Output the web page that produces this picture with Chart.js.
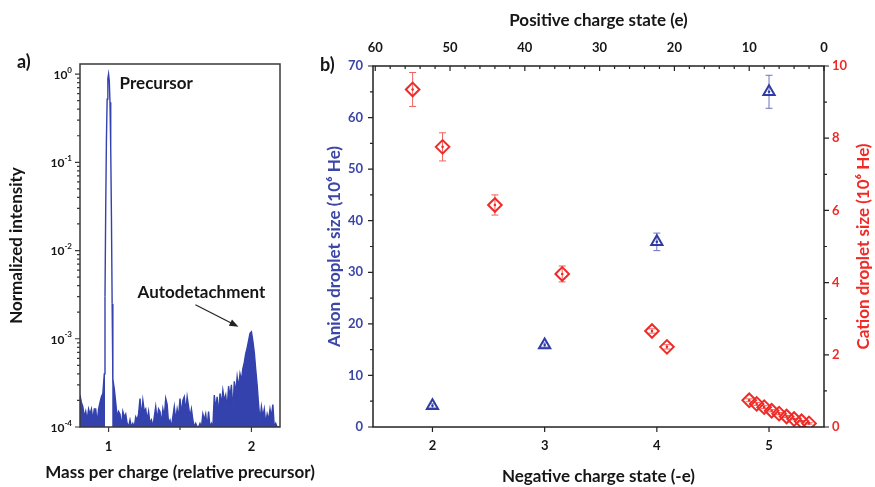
<!DOCTYPE html>
<html>
<head>
<meta charset="utf-8">
<script src="https://cdn.jsdelivr.net/npm/chart.js@4.4.1/dist/chart.umd.min.js"></script>
<style>
  html, body { margin: 0; padding: 0; background: #fff; }
  #lienzo { position: relative; width: 875px; height: 487px; overflow: hidden; }
  canvas { position: absolute; top: 0; }
  #grafico_espectro { left: 0; }
  #grafico_tamanos { left: 300px; }
</style>
</head>
<body>
<div id="lienzo">
  <canvas id="grafico_espectro" width="340" height="487"></canvas>
  <canvas id="grafico_tamanos" width="575" height="487"></canvas>
</div>
<script>
/*********-datos panel a: espectro de masas-*********/
const MASA = [
  0.80, 0.81, 0.82, 0.83, 0.84, 0.85, 0.86, 0.87, 0.88, 0.89,
  0.90, 0.91, 0.92, 0.93, 0.94, 0.95, 0.96, 0.97, 0.975, 0.98,
  0.985, 0.99, 0.995, 1.00, 1.005, 1.01, 1.015, 1.02, 1.025, 1.03,
  1.04, 1.05, 1.06, 1.07, 1.08, 1.09, 1.10, 1.11, 1.12, 1.13,
  1.14, 1.15, 1.16, 1.17, 1.18, 1.19, 1.20, 1.21, 1.22, 1.23,
  1.24, 1.25, 1.26, 1.27, 1.28, 1.29, 1.30, 1.31, 1.32, 1.33,
  1.34, 1.35, 1.36, 1.37, 1.38, 1.39, 1.40, 1.41, 1.42, 1.43,
  1.44, 1.45, 1.46, 1.47, 1.48, 1.49, 1.50, 1.51, 1.52, 1.53,
  1.54, 1.55, 1.56, 1.57, 1.58, 1.59, 1.60, 1.61, 1.62, 1.63,
  1.64, 1.65, 1.66, 1.67, 1.68, 1.69, 1.70, 1.71, 1.72, 1.73,
  1.74, 1.75, 1.76, 1.77, 1.78, 1.79, 1.80, 1.81, 1.82, 1.83,
  1.84, 1.85, 1.86, 1.87, 1.88, 1.89, 1.90, 1.91, 1.92, 1.93,
  1.94, 1.95, 1.96, 1.97, 1.98, 1.99, 2.00, 2.01, 2.02, 2.03,
  2.04, 2.05, 2.06, 2.07, 2.08, 2.09, 2.10, 2.11, 2.12, 2.13,
  2.14, 2.15, 2.16, 2.17, 2.18, 2.19, 2.20
];
// intensidad normalizada en unidades de 1e-4
const INTENSIDAD_E4 = [
  2.3, 1.9, 1.7, 1.3, 1.5, 1.2, 1.6, 1.4, 1.6, 1.2,
  1.6, 1.6, 1.1, 1.6, 1.9, 2.2, 2.4, 4, 30, 300,
  1800, 5200, 8900, 10000, 8400, 4800, 1500, 250, 25, 3.5,
  2.7, 1.9, 1.3, 1.5, 1.4, 1.0, 1.5, 1.3, 1.4, 1.1,
  1.0, 1.2, 1.0, 1.1, 1.0, 1.3, 1.2, 1.4, 2.1, 1.3,
  2.0, 1.5, 1.6, 1.2, 1.5, 1.1, 1.2, 1.0, 1.3, 1.7,
  1.2, 1.6, 1.5, 1.1, 1.6, 1.3, 2.1, 1.8, 1.1, 1.2,
  1.0, 1.3, 1.7, 1.2, 1.6, 1.3, 2.1, 1.4, 2.0, 2.2,
  1.5, 2.2, 1.7, 1.3, 1.6, 1.2, 1.0, 1.1, 1.0, 1.0,
  1.1, 1.0, 1.4, 1.2, 1.4, 1.0, 1.5, 1.0, 1.1, 1.0,
  2.3, 1.6, 2.2, 1.4, 2.4, 1.8, 2.6, 2.0, 2.3, 1.6,
  2.9, 2.2, 3.0, 1.5, 3.3, 2.4, 3.7, 2.8, 4.0, 3.4,
  4.6, 5.4, 6.8, 7.9, 9.5, 11.5, 12.0, 9.5, 7.0, 4.5,
  3.0, 1.8, 1.2, 1.7, 1.3, 1.6, 1.1, 1.4, 1.2, 1.6,
  1.3, 1.8, 1.0, 1.1, 1.0, 1.0, 1.0
];
const TICKS_MASA = [1, 2];
const DECADAS = [-4, -3, -2, -1, 0];
const MENORES_LOG = [2, 3, 4, 5, 6, 7, 8, 9];
//------------------------------------//

/*********-datos panel b: tamaño de gota segun carga-*********/
const CARGA_NEG = [2, 3, 4, 5];
const ANION = [4.1, 15.9, 35.9, 65.0];
const ANION_ERR = [0.4, 0.4, 1.7, 3.2];

const CARGA_POS = [55, 51, 44, 35, 23, 21, 10, 9, 8, 7, 6, 5, 4, 3, 2];
const CATION = [9.35, 7.76, 6.15, 4.24, 2.66, 2.22, 0.74, 0.64, 0.55, 0.45, 0.37, 0.29, 0.22, 0.16, 0.10];
const CATION_ERR = [0.47, 0.39, 0.28, 0.22, 0.06, 0.06, 0.04, 0.04, 0.04, 0.03, 0.03, 0.03, 0.02, 0.02, 0.02];

const TICKS_NEG = [2, 3, 4, 5];
const TICKS_POS = [60, 50, 40, 30, 20, 10, 0];
const TICKS_ANION = [0, 10, 20, 30, 40, 50, 60, 70];
const TICKS_CATION = [0, 2, 4, 6, 8, 10];
//------------------------------------//

const FUENTE = 'Lato';
const NEGRO = '#161616';
const AZUL_ESPECTRO = '#3442ae';
const AZUL_TEXTO = '#3b46a8';
const AZUL_MARCA = '#2f3ca3';
const AZUL_ERROR = '#6a74c4';
const ROJO = '#ee2b27';
const ROJO_ERROR = '#f2605c';

// dibuja las marcas de un eje, dir = +1 hacia abajo/derecha, -1 hacia arriba/izquierda
function marcas(ctx, escala, valores, largo, dir) {
  const area = escala.chart.chartArea;
  ctx.beginPath();
  valores.forEach(v => {
    const p = escala.getPixelForValue(v);
    if (escala.isHorizontal()) {
      const y0 = escala.position === 'top' ? area.top : area.bottom;
      ctx.moveTo(p, y0);
      ctx.lineTo(p, y0 + dir * largo);
    } else {
      const x0 = escala.position === 'left' ? area.left : area.right;
      ctx.moveTo(x0, p);
      ctx.lineTo(x0 + dir * largo, p);
    }
  });
  ctx.stroke();
}

function flecha(ctx, x1, y1, x2, y2) {
  const ang = Math.atan2(y2 - y1, x2 - x1);
  ctx.beginPath();
  ctx.moveTo(x1, y1);
  ctx.lineTo(x2 - 6 * Math.cos(ang), y2 - 6 * Math.sin(ang));
  ctx.stroke();
  ctx.beginPath();
  ctx.moveTo(x2, y2);
  ctx.lineTo(x2 - 9 * Math.cos(ang) + 3.5 * Math.sin(ang), y2 - 9 * Math.sin(ang) - 3.5 * Math.cos(ang));
  ctx.lineTo(x2 - 9 * Math.cos(ang) - 3.5 * Math.sin(ang), y2 - 9 * Math.sin(ang) + 3.5 * Math.cos(ang));
  ctx.closePath();
  ctx.fill();
}

function fijarTicks(valores) {
  return function (escala) {
    escala.ticks = valores.map(v => ({ value: v }));
  };
}

/*********-panel a-*********/
const pluginEspectro = {
  id: 'marcos_espectro',
  afterDraw(chart) {
    const ctx = chart.ctx;
    const a = chart.chartArea;
    const sx = chart.scales.x;
    const sy = chart.scales.y;
    ctx.save();
    ctx.strokeStyle = '#3a3a3a';
    ctx.lineWidth = 1.5;
    ctx.strokeRect(a.left, a.top, a.right - a.left, a.bottom - a.top);

    ctx.lineWidth = 1.2;
    marcas(ctx, sy, DECADAS.map(n => Math.pow(10, n)), 5, -1);
    const menores = [];
    DECADAS.forEach(n => MENORES_LOG.forEach(k => {
      const v = k * Math.pow(10, n);
      if (v < sy.max) menores.push(v);
    }));
    marcas(ctx, sy, menores, 3, -1);
    marcas(ctx, sx, TICKS_MASA, 5, 1);
    marcas(ctx, sx, [1.5], 3, 1);

    // etiquetas 10^n con exponente
    ctx.fillStyle = NEGRO;
    ctx.textBaseline = 'middle';
    ctx.textAlign = 'right';
    DECADAS.forEach(n => {
      const y = sy.getPixelForValue(Math.pow(10, n));
      const exp = n === 0 ? '0' : '-' + (-n);
      ctx.font = 'bold 8px ' + FUENTE;
      const wExp = ctx.measureText(exp).width;
      ctx.fillText(exp, a.left - 8, y - 4);
      ctx.font = 'bold 12px ' + FUENTE;
      ctx.fillText('10', a.left - 8 - wExp, y + 1);
    });

    ctx.font = 'bold 17px ' + FUENTE;
    ctx.textAlign = 'center';
    ctx.fillText('Mass per charge (relative precursor)', (a.left + a.right) / 2, chart.height - 14);

    // anotaciones
    ctx.textBaseline = 'alphabetic';
    ctx.textAlign = 'left';
    ctx.fillText('Precursor', sx.getPixelForValue(1.077), sy.getPixelForValue(0.676));
    ctx.textAlign = 'center';
    ctx.fillText('Autodetachment', sx.getPixelForValue(1.65), sy.getPixelForValue(2.9e-3));
    ctx.strokeStyle = '#222';
    ctx.fillStyle = '#222';
    ctx.lineWidth = 1.2;
    flecha(ctx, sx.getPixelForValue(1.608), sy.getPixelForValue(2.43e-3),
      sx.getPixelForValue(1.909), sy.getPixelForValue(1.37e-3));

    ctx.fillStyle = NEGRO;
    ctx.font = 'bold 18px ' + FUENTE;
    ctx.textAlign = 'left';
    ctx.textBaseline = 'middle';
    ctx.fillText('a)', 17, 62);
    ctx.restore();
  }
};

const DATOS_ESPECTRO = MASA.map((m, i) => ({ x: m, y: INTENSIDAD_E4[i] * 1e-4 }));

// el pico del precursor se ve como contorno, sin relleno
function rellenoSegmento(c) {
  const x0 = c.p0.parsed.x;
  const x1 = c.p1.parsed.x;
  if (x0 >= 0.975 && x1 <= 1.025) return 'rgba(0,0,0,0)';
  return AZUL_ESPECTRO;
}

new Chart(document.getElementById('grafico_espectro'), {
  type: 'line',
  data: {
    datasets: [{
      data: DATOS_ESPECTRO,
      borderColor: AZUL_ESPECTRO,
      backgroundColor: AZUL_ESPECTRO,
      borderWidth: 1.4,
      pointRadius: 0,
      tension: 0,
      fill: 'start',
      segment: { backgroundColor: rellenoSegmento }
    }]
  },
  options: {
    responsive: false,
    animation: false,
    layout: { padding: { left: 3, right: 60, top: 64, bottom: 0 } },
    plugins: { legend: { display: false }, tooltip: { enabled: false } },
    scales: {
      x: {
        type: 'linear',
        min: 0.8,
        max: 2.2,
        afterBuildTicks: fijarTicks(TICKS_MASA),
        afterFit: s => { s.height = 60; },
        grid: { display: false, drawTicks: false },
        border: { display: false },
        ticks: { color: NEGRO, padding: 12, font: { family: FUENTE, size: 13, weight: 'bold' } }
      },
      y: {
        type: 'logarithmic',
        min: 1e-4,
        max: 1.3,
        afterFit: s => { s.width = 77; },
        grid: { display: false, drawTicks: false },
        border: { display: false },
        ticks: { display: false },
        title: {
          display: true,
          text: 'Normalized intensity',
          color: NEGRO,
          padding: { top: 3, bottom: 0 },
          font: { family: FUENTE, size: 17, weight: 'bold' }
        }
      }
    }
  },
  plugins: [pluginEspectro]
});
//------------------------------------//

/*********-panel b-*********/
const pluginTamanos = {
  id: 'marcos_tamanos',
  beforeDatasetsDraw(chart) {
    // barras de error
    const ctx = chart.ctx;
    ctx.save();
    ctx.lineWidth = 1;
    [[0, ANION_ERR, AZUL_ERROR, 'y'], [1, CATION_ERR, ROJO_ERROR, 'y2']].forEach(([i, errores, color, eje]) => {
      const escala = chart.scales[eje];
      const valores = chart.data.datasets[i].data;
      ctx.strokeStyle = color;
      chart.getDatasetMeta(i).data.forEach((pt, j) => {
        const yA = escala.getPixelForValue(valores[j].y + errores[j]);
        const yB = escala.getPixelForValue(valores[j].y - errores[j]);
        ctx.beginPath();
        ctx.moveTo(pt.x, yA); ctx.lineTo(pt.x, yB);
        ctx.moveTo(pt.x - 3.5, yA); ctx.lineTo(pt.x + 3.5, yA);
        ctx.moveTo(pt.x - 3.5, yB); ctx.lineTo(pt.x + 3.5, yB);
        ctx.stroke();
      });
    });
    ctx.restore();
  },
  afterDatasetsDraw(chart) {
    // punto central de cada marcador
    const ctx = chart.ctx;
    ctx.save();
    [[0, AZUL_MARCA], [1, ROJO]].forEach(([i, color]) => {
      ctx.fillStyle = color;
      chart.getDatasetMeta(i).data.forEach(pt => {
        ctx.beginPath();
        ctx.arc(pt.x, pt.y, 1.3, 0, Math.PI * 2);
        ctx.fill();
      });
    });
    ctx.restore();
  },
  afterDraw(chart) {
    const ctx = chart.ctx;
    const a = chart.chartArea;
    const s = chart.scales;
    ctx.save();
    ctx.lineWidth = 1.5;
    ctx.strokeStyle = '#222';
    ctx.strokeRect(a.left, a.top, a.right - a.left, a.bottom - a.top);

    ctx.lineWidth = 1.2;
    marcas(ctx, s.y, TICKS_ANION, 5, -1);
    marcas(ctx, s.y, [5, 15, 25, 35, 45, 55, 65], 3, -1);
    marcas(ctx, s.y2, TICKS_CATION, 5, 1);
    marcas(ctx, s.y2, [1, 3, 5, 7, 9], 3, 1);
    marcas(ctx, s.x2, TICKS_POS, 5, 1);
    const menoresPos = [];
    for (let v = 2; v < 60; v += 2) if (v % 10 !== 0) menoresPos.push(v);
    marcas(ctx, s.x2, menoresPos, 3, 1);
    marcas(ctx, s.x, TICKS_NEG, 5, 1);

    // titulo del eje derecho, leido de abajo a arriba
    ctx.fillStyle = ROJO;
    ctx.font = 'bold 17px ' + FUENTE;
    ctx.textAlign = 'center';
    ctx.textBaseline = 'middle';
    ctx.translate(chart.width - 11, (a.top + a.bottom) / 2);
    ctx.rotate(-Math.PI / 2);
    ctx.fillText('Cation droplet size (10\u2076 He)', 0, 0);
    ctx.setTransform(1, 0, 0, 1, 0, 0);

    ctx.fillStyle = NEGRO;
    ctx.font = 'bold 18px ' + FUENTE;
    ctx.textAlign = 'left';
    ctx.fillText('b)', 20, 65);
    ctx.restore();
  }
};

const fuenteTicks = { family: FUENTE, size: 13, weight: 'bold' };
const fuenteTitulo = { family: FUENTE, size: 17, weight: 'bold' };

new Chart(document.getElementById('grafico_tamanos'), {
  type: 'scatter',
  data: {
    datasets: [
      {
        label: 'Anion',
        data: CARGA_NEG.map((c, i) => ({ x: c, y: ANION[i] })),
        xAxisID: 'x',
        yAxisID: 'y',
        pointStyle: 'triangle',
        pointRadius: 6.5,
        borderWidth: 2,
        borderColor: AZUL_MARCA,
        backgroundColor: 'rgba(255,255,255,0)'
      },
      {
        label: 'Cation',
        data: CARGA_POS.map((c, i) => ({ x: c, y: CATION[i] })),
        xAxisID: 'x2',
        yAxisID: 'y2',
        pointStyle: 'rectRot',
        pointRadius: 6.8,
        borderWidth: 2,
        borderColor: ROJO,
        backgroundColor: 'rgba(255,255,255,0)'
      }
    ]
  },
  options: {
    responsive: false,
    animation: false,
    layout: { padding: { left: 20, right: 0, top: 6, bottom: 0 } },
    plugins: { legend: { display: false }, tooltip: { enabled: false } },
    scales: {
      x: {
        type: 'linear',
        position: 'bottom',
        min: 1.47,
        max: 5.49,
        afterBuildTicks: fijarTicks(TICKS_NEG),
        afterFit: s => { s.height = 60; },
        grid: { display: false, drawTicks: false },
        border: { display: false },
        ticks: { color: NEGRO, padding: 11, font: fuenteTicks },
        title: { display: true, text: 'Negative charge state (-e)', color: NEGRO, padding: { top: 0, bottom: 0 }, font: fuenteTitulo }
      },
      x2: {
        type: 'linear',
        position: 'top',
        reverse: true,
        min: 0,
        max: 60.3,
        afterBuildTicks: fijarTicks(TICKS_POS),
        afterFit: s => { s.height = 60; },
        grid: { display: false, drawTicks: false },
        border: { display: false },
        ticks: { color: NEGRO, padding: 10, font: fuenteTicks },
        title: { display: true, text: 'Positive charge state (e)', color: NEGRO, padding: { top: 4, bottom: 0 }, font: fuenteTitulo }
      },
      y: {
        type: 'linear',
        position: 'left',
        min: 0,
        max: 70,
        afterBuildTicks: fijarTicks(TICKS_ANION),
        afterFit: s => { s.width = 53; },
        grid: { display: false, drawTicks: false },
        border: { display: false },
        ticks: { color: AZUL_TEXTO, padding: 10, font: fuenteTicks },
        title: { display: true, text: 'Anion droplet size (10\u2076 He)', color: AZUL_TEXTO, padding: { top: 4, bottom: 0 }, font: fuenteTitulo }
      },
      y2: {
        type: 'linear',
        position: 'right',
        min: 0,
        max: 10,
        afterBuildTicks: fijarTicks(TICKS_CATION),
        afterFit: s => { s.width = 51; },
        grid: { display: false, drawTicks: false },
        border: { display: false },
        ticks: { color: ROJO, padding: 8, font: fuenteTicks }
      }
    }
  },
  plugins: [pluginTamanos]
});
//------------------------------------//
</script>
</body>
</html>
